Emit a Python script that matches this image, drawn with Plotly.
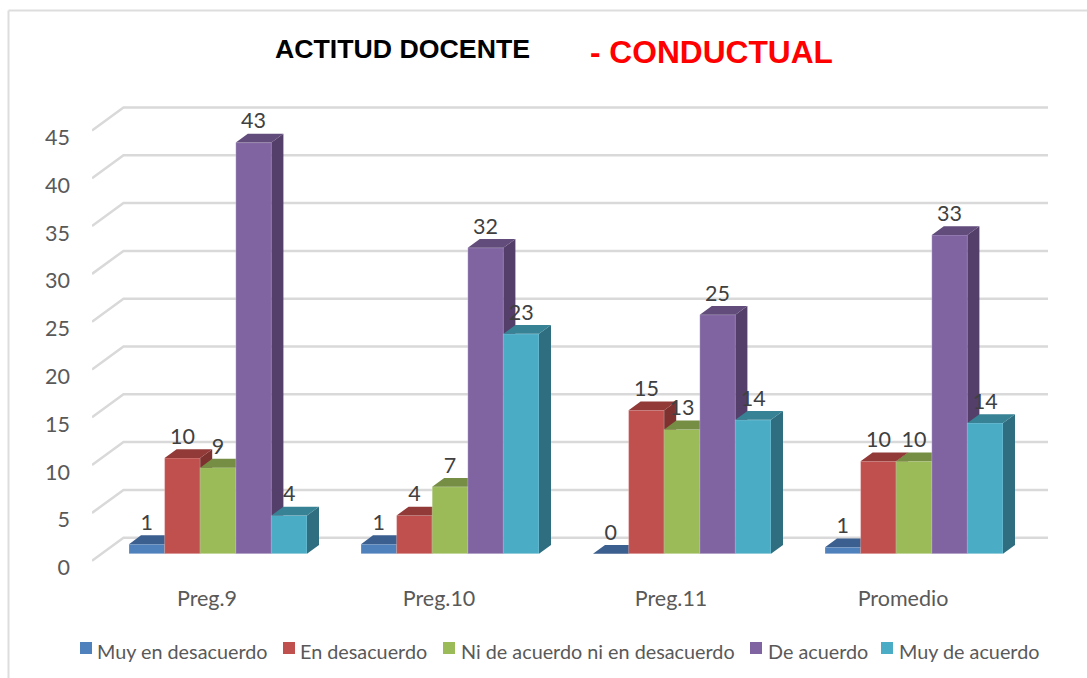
import plotly.graph_objects as go

categories = ["Preg.9", "Preg.10", "Preg.11", "Promedio"]
series_names = [
    "Muy en desacuerdo",
    "En desacuerdo",
    "Ni de acuerdo ni en desacuerdo",
    "De acuerdo",
    "Muy de acuerdo",
]
muy_en_desacuerdo = [1, 1, 0, 0.67]
en_desacuerdo = [10, 4, 15, 9.67]
ni_de_acuerdo = [9, 7, 13, 9.67]
de_acuerdo = [43, 32, 25, 33.33]
muy_de_acuerdo = [4, 23, 14, 13.67]
series_values = [muy_en_desacuerdo, en_desacuerdo, ni_de_acuerdo, de_acuerdo, muy_de_acuerdo]
y_ticks = [0, 5, 10, 15, 20, 25, 30, 35, 40, 45]

front_colors = ["#4F81BD", "#C0504D", "#9BBB59", "#8064A2", "#4BACC6"]
top_colors = ["#3B5F8E", "#923A38", "#758E43", "#624C7B", "#388295"]
side_colors = ["#32517A", "#7E3230", "#647A39", "#533F69", "#2F6E80"]

W, H = 1087, 678
LEFT, RIGHT, TOP, BOTTOM = 92, 1048, 100, 565
CAT_STEP = 232  # px between groups
CAT0 = 218  # px of first group centre
UNIT = 9.56  # px per value unit
BASE = 553.7  # px of value 0 on the bar front

BAR_W = 35.6 / CAT_STEP
DX = 12 / CAT_STEP
DY = 8.8 / UNIT
WALL_Y = 16 / UNIT
SIDE_Y = 7 / UNIT
LABEL_Y = 19.5 / UNIT
GROUP_W = BAR_W * len(series_names)

x_range = [(LEFT - CAT0) / CAT_STEP, (RIGHT - CAT0) / CAT_STEP]
y_range = [(BASE - BOTTOM) / UNIT, (BASE - TOP) / UNIT]
wall_x = (123.5 - CAT0) / CAT_STEP

fig = go.Figure()

# back wall gridlines with the diagonal piece on the left
grid_x, grid_y = [], []
for t in y_ticks:
    grid_x += [x_range[0], wall_x, x_range[1], None]
    grid_y += [t - SIDE_Y, t + WALL_Y, t + WALL_Y, None]
fig.add_trace(go.Scatter(
    x=grid_x, y=grid_y, mode="lines",
    line=dict(color="#D9D9D9", width=2.5),
    hoverinfo="skip", showlegend=False,
))
# invisible trace so the tick labels always show
fig.add_trace(go.Scatter(x=x_range, y=[0, 0], mode="lines", line=dict(width=0),
                         hoverinfo="skip", showlegend=False))

# every series sits on its own overlaying axis so later bars cover earlier faces
for k, name in enumerate(series_names):
    axis = f"y{k + 2}"
    values = series_values[k]
    lefts = [i - GROUP_W / 2 + k * BAR_W for i in range(len(categories))]

    fig.add_trace(go.Bar(
        x=list(range(len(categories))), y=values, name=name,
        offset=-GROUP_W / 2 + k * BAR_W, width=BAR_W,
        marker=dict(color=front_colors[k], line=dict(color="rgba(255,255,255,0.25)", width=1)),
        yaxis=axis, showlegend=False,
    ))

    side_x, side_y, top_x, top_y = [], [], [], []
    for x0, v in zip(lefts, values):
        x1 = x0 + BAR_W
        top_x += [x0, x1, x1 + DX, x0 + DX, x0, None]
        top_y += [v, v, v + DY, v + DY, v, None]
        side_x += [x1, x1 + DX, x1 + DX, x1, x1, None]
        side_y += [0, DY, v + DY, v, 0, None]
    fig.add_trace(go.Scatter(
        x=side_x, y=side_y, mode="lines", fill="toself", fillcolor=side_colors[k],
        line=dict(width=0), hoverinfo="skip", showlegend=False, yaxis=axis,
    ))
    fig.add_trace(go.Scatter(
        x=top_x, y=top_y, mode="lines", fill="toself", fillcolor=top_colors[k],
        line=dict(width=0), hoverinfo="skip", showlegend=False, yaxis=axis,
    ))

# value labels above all the bars
label_axis = f"y{len(series_names) + 2}"
for k, values in enumerate(series_values):
    fig.add_trace(go.Scatter(
        x=[i - GROUP_W / 2 + (k + 0.5) * BAR_W for i in range(len(categories))],
        y=[v + LABEL_Y for v in values],
        text=[f"{v:.0f}" for v in values],
        mode="text", textposition="middle center",
        textfont=dict(family="Lato", size=21.5, color="#404040"),
        hoverinfo="skip", showlegend=False, yaxis=label_axis, cliponaxis=False,
    ))

layout_axes = {}
for n in range(2, len(series_names) + 3):
    layout_axes[f"yaxis{n}"] = dict(overlaying="y", range=y_range, visible=False,
                                    fixedrange=True, automargin=False)

annotations = [
    dict(x=275 / W, y=1 - 49 / H, text="<b>ACTITUD DOCENTE</b>",
         font=dict(family="Liberation Sans", size=26.7, color="#000000")),
    dict(x=590 / W, y=1 - 52 / H, text="<b>- CONDUCTUAL</b>",
         font=dict(family="Liberation Sans", size=31.7, color="#FF0000")),
]
legend_text_x = [97, 300, 461, 768, 899]
legend_box_x = [80, 283, 443, 750, 881]
shapes = []
for name, tx, bx, color in zip(series_names, legend_text_x, legend_box_x, front_colors):
    annotations.append(dict(
        x=tx / W, y=1 - 651 / H, text=name,
        font=dict(family="Lato", size=19.8, color="#595959"),
    ))
    shapes.append(dict(
        type="rect", xref="paper", yref="paper",
        x0=bx / W, x1=(bx + 12) / W, y0=1 - 654 / H, y1=1 - 642 / H,
        fillcolor=color, line=dict(width=0),
    ))
for a in annotations:
    a.update(xref="paper", yref="paper", xanchor="left", yanchor="middle", showarrow=False,
             borderpad=0, borderwidth=0)

# thin frame of the chart area, open on the right
shapes.append(dict(type="line", xref="paper", yref="paper", x0=8.5 / W, x1=1,
                   y0=1 - 10.5 / H, y1=1 - 10.5 / H, line=dict(color="#DDDDDD", width=2)))
shapes.append(dict(type="line", xref="paper", yref="paper", x0=8.5 / W, x1=8.5 / W,
                   y0=0, y1=1 - 10.5 / H, line=dict(color="#DDDDDD", width=2)))

fig.update_layout(
    width=W, height=H,
    margin=dict(l=0, r=0, t=0, b=0),
    paper_bgcolor="white", plot_bgcolor="white",
    barmode="overlay", showlegend=False,
    xaxis=dict(
        domain=[LEFT / W, RIGHT / W], range=x_range, automargin=False,
        tickmode="array", tickvals=list(range(len(categories))), ticktext=categories,
        ticklabelshift=-11, ticklabelstandoff=18,
        tickfont=dict(family="Lato", size=21.5, color="#595959"),
        showgrid=False, zeroline=False, showline=False, fixedrange=True,
    ),
    yaxis=dict(
        domain=[1 - BOTTOM / H, 1 - TOP / H], range=y_range, automargin=False,
        tickmode="array", tickvals=y_ticks,
        ticklabelshift=14, ticklabelstandoff=21,
        tickfont=dict(family="Lato", size=21.5, color="#595959"),
        showgrid=False, zeroline=False, showline=False, fixedrange=True,
    ),
    annotations=annotations,
    shapes=shapes,
    **layout_axes,
)

fig.write_html("out.html", config={"displayModeBar": False},
               post_script="document.body.style.margin='0';")
